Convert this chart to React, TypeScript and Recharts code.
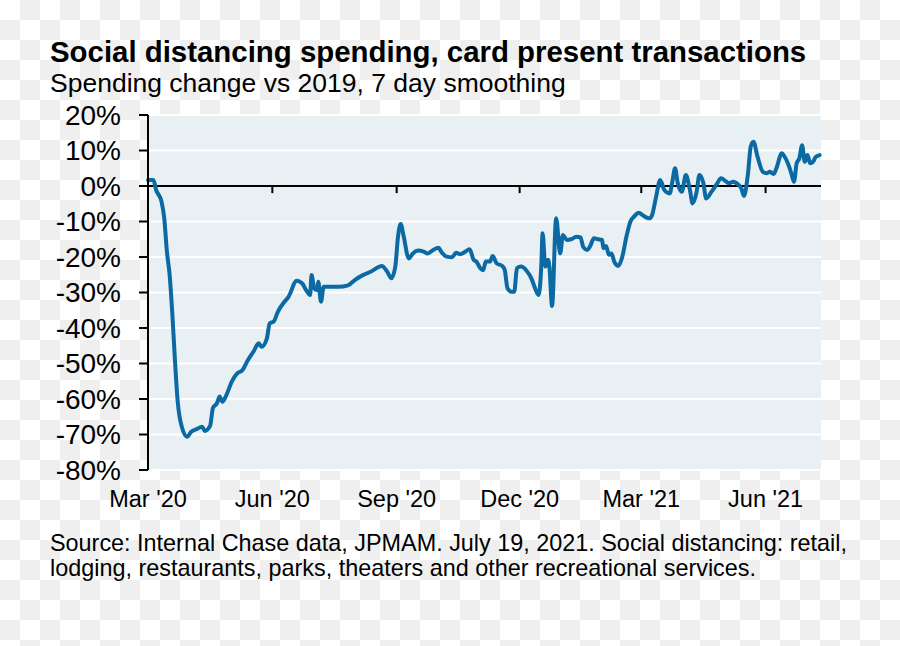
import React from "react"
import { CartesianGrid, Line, LineChart, ReferenceLine, XAxis, YAxis } from "recharts"

const FONT = "'Liberation Sans', Arial, Helvetica, sans-serif"

// card present spending, % change vs 2019 (7 day smoothing)
const dates = [
  "2020-03-01", "2020-03-05", "2020-03-07", "2020-03-11", "2020-03-13", "2020-03-15", "2020-03-17", "2020-03-19",
  "2020-03-21", "2020-03-23", "2020-03-26", "2020-03-30", "2020-04-02", "2020-04-06", "2020-04-10", "2020-04-12",
  "2020-04-16", "2020-04-18", "2020-04-21", "2020-04-23", "2020-04-25", "2020-04-28", "2020-05-02", "2020-05-06",
  "2020-05-10", "2020-05-14", "2020-05-18", "2020-05-22", "2020-05-24", "2020-05-28", "2020-05-30", "2020-06-02",
  "2020-06-05", "2020-06-10", "2020-06-13", "2020-06-19", "2020-06-23", "2020-06-26", "2020-06-29", "2020-06-30",
  "2020-07-02", "2020-07-04", "2020-07-05", "2020-07-07", "2020-07-09", "2020-07-14", "2020-07-20", "2020-07-27",
  "2020-08-01", "2020-08-07", "2020-08-13", "2020-08-21", "2020-08-25", "2020-08-28", "2020-08-31", "2020-09-02",
  "2020-09-04", "2020-09-06", "2020-09-10", "2020-09-13", "2020-09-17", "2020-09-21", "2020-09-24", "2020-09-28",
  "2020-10-02", "2020-10-04", "2020-10-08", "2020-10-12", "2020-10-15", "2020-10-18", "2020-10-21", "2020-10-25",
  "2020-10-28", "2020-10-30", "2020-11-02", "2020-11-04", "2020-11-06", "2020-11-09", "2020-11-11", "2020-11-14",
  "2020-11-18", "2020-11-20", "2020-11-22", "2020-11-25", "2020-11-27", "2020-11-29", "2020-12-02", "2020-12-06",
  "2020-12-10", "2020-12-12", "2020-12-15", "2020-12-17", "2020-12-18", "2020-12-20", "2020-12-22", "2020-12-23",
  "2020-12-25", "2020-12-28", "2020-12-31", "2021-01-02", "2021-01-05", "2021-01-08", "2021-01-12", "2021-01-15",
  "2021-01-17", "2021-01-20", "2021-01-22", "2021-01-25", "2021-01-28", "2021-01-31", "2021-02-01", "2021-02-03",
  "2021-02-05", "2021-02-07", "2021-02-09", "2021-02-12", "2021-02-15", "2021-02-18", "2021-02-21", "2021-02-24",
  "2021-02-27", "2021-03-02", "2021-03-05", "2021-03-07", "2021-03-09", "2021-03-12", "2021-03-15", "2021-03-18",
  "2021-03-22", "2021-03-24", "2021-03-26", "2021-03-28", "2021-03-31", "2021-04-03", "2021-04-06", "2021-04-08",
  "2021-04-11", "2021-04-13", "2021-04-16", "2021-04-18", "2021-04-22", "2021-04-26", "2021-04-29", "2021-05-03",
  "2021-05-05", "2021-05-08", "2021-05-12", "2021-05-14", "2021-05-16", "2021-05-19", "2021-05-21", "2021-05-23",
  "2021-05-26", "2021-05-30", "2021-06-02", "2021-06-04", "2021-06-07", "2021-06-09", "2021-06-13", "2021-06-15",
  "2021-06-18", "2021-06-20", "2021-06-22", "2021-06-24", "2021-06-26", "2021-06-28", "2021-06-30", "2021-07-02",
  "2021-07-04", "2021-07-06", "2021-07-08", "2021-07-11",
]

const spending = [
  1.7, 1.7, -1.1, -4.4, -9, -18.5, -25, -36,
  -49.5, -60.8, -67.8, -70.6, -69.2, -68.5, -67.8, -69,
  -67.5, -62.6, -61.2, -59.3, -60.8, -58.9, -55.1, -52.8,
  -51.8, -49, -46.7, -44.3, -45.3, -42.9, -38.7, -38.2,
  -35.5, -32.6, -31.2, -26.7, -27.4, -29.3, -30.7, -25.1,
  -28.8, -29.3, -27, -32.6, -28.4, -28.4, -28.4, -28,
  -26.5, -25.1, -24.1, -22.5, -24.1, -26, -22.7, -14.3,
  -10.7, -13.8, -20.4, -19, -18.2, -18.5, -19, -18,
  -17.4, -18.5, -19.9, -20.1, -18.8, -19.2, -18.7, -17.8,
  -20.8, -21.3, -23.2, -23.7, -21.3, -21.3, -19.7, -21.8,
  -22.5, -23.7, -28.8, -29.8, -29.8, -23.2, -22.7, -23.8,
  -26.3, -28.4, -30.7, -22.7, -13.3, -22.7, -20.8, -22.7,
  -33.8, -9.1, -19, -13.8, -15.2, -15, -14.3, -14.5,
  -17.1, -18, -17.1, -14.7, -15, -15.2, -17.5, -16.9,
  -19.4, -19, -21.3, -22.5, -19.9, -14.3, -10, -8.5,
  -7.5, -8.2, -8.9, -9.1, -8.2, -3, 1.7, -1.1,
  -2.1, 1.2, 5, 0.8, -1.6, 3.1, -1.1, -4.9,
  -1.6, 3.1, 0.8, -3.5, -1.6, 0.6, 2.2, 1.2,
  0.8, 1.2, 0.3, -0.6, -2.8, 3.6, 11.1, 12.5,
  8.3, 4, 3.6, 4, 3.4, 5, 9.2, 8.3,
  5.9, 3.6, 1.2, 6.4, 7.8, 11.5, 6.8, 8.7,
  6.4, 6.8, 8.1, 8.7,
]

const tickDates = ["2020-03-01", "2020-06-01", "2020-09-01", "2020-12-01", "2021-03-01", "2021-06-01"]
const tickLabels = ["Mar '20", "Jun '20", "Sep '20", "Dec '20", "Mar '21", "Jun '21"]
const yTicks = [20, 10, 0, -10, -20, -30, -40, -50, -60, -70, -80]

const ts = (d: string) => Date.parse(d + "T00:00:00Z")
const data = dates.map((d, i) => ({ t: ts(d), v: spending[i] }))
const xTicks = tickDates.map(ts)
const xDomain = [ts("2020-03-01"), ts("2021-07-12")]

export default function App() {
  return (
    <div
      style={{
        position: "absolute",
        left: 0,
        top: 0,
        width: 900,
        height: 646,
        fontFamily: FONT,
        color: "#000",
        background: "repeating-conic-gradient(#efefef 0 25%, #ffffff 0 50%) 0 0 / 40px 40px",
      }}
    >
      <div style={{ position: "absolute", left: 50, top: 35, fontSize: 29.4, lineHeight: "34px", fontWeight: "bold", whiteSpace: "nowrap" }}>
        Social distancing spending, card present transactions
      </div>
      <div style={{ position: "absolute", left: 50, top: 68, fontSize: 26.5, lineHeight: "30px", whiteSpace: "nowrap" }}>
        Spending change vs 2019, 7 day smoothing
      </div>
      <LineChart
        width={900}
        height={646}
        data={data}
        margin={{ top: 115, right: 79, bottom: 136, left: 50 }}
        style={{ position: "absolute", left: 0, top: 0 }}
      >
        <CartesianGrid vertical={false} fill="#e8f0f4" stroke="#ffffff" strokeWidth={2} />
        <XAxis
          dataKey="t"
          type="number"
          scale="time"
          domain={xDomain}
          ticks={xTicks}
          tickFormatter={(v: number) => tickLabels[xTicks.indexOf(v)] ?? ""}
          axisLine={false}
          tickLine={false}
          tickSize={0}
          tickMargin={20}
          height={40}
          interval={0}
          tick={{ fontSize: 23.5, fill: "#000", fontFamily: FONT }}
        />
        <YAxis
          type="number"
          domain={[-80, 20]}
          ticks={yTicks}
          interval={0}
          width={98}
          tickFormatter={(v: number) => `${v}%`}
          axisLine={{ stroke: "#000", strokeWidth: 2 }}
          tickLine={{ stroke: "#000", strokeWidth: 2 }}
          tickSize={9}
          tickMargin={18}
          tick={{ fontSize: 28, fill: "#000", fontFamily: FONT }}
        />
        <ReferenceLine y={0} stroke="#000" strokeWidth={2} />
        {xTicks.map((t) => (
          <ReferenceLine
            key={t}
            segment={[
              { x: t, y: 0 },
              { x: t, y: -2 },
            ]}
            stroke="#000"
            strokeWidth={2}
          />
        ))}
        <Line
          type="monotone"
          dataKey="v"
          stroke="#0b69a3"
          strokeWidth={4}
          dot={false}
          strokeLinejoin="round"
          strokeLinecap="round"
          isAnimationActive={false}
        />
      </LineChart>
      <div style={{ position: "absolute", left: 50, top: 531, fontSize: 23.4, lineHeight: "25px", width: 840 }}>
        Source: Internal Chase data, JPMAM. July 19, 2021. Social distancing: retail,
        <br />
        lodging, restaurants, parks, theaters and other recreational services.
      </div>
    </div>
  )
}
